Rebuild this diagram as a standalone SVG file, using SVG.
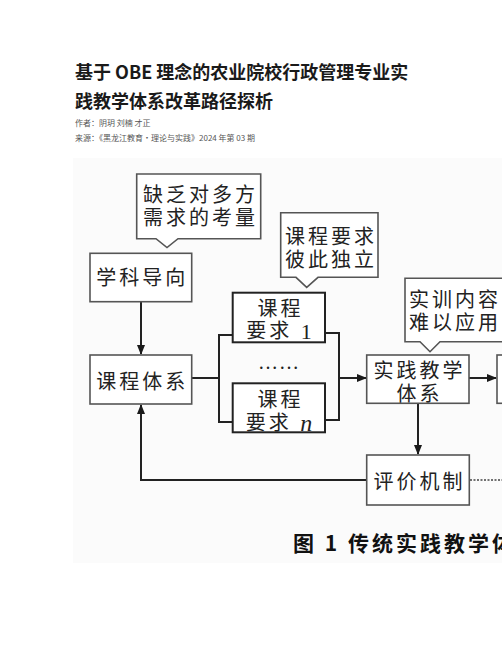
<svg xmlns="http://www.w3.org/2000/svg" width="502" height="649" viewBox="0 0 502 649">
<defs>
<marker id="ah" markerWidth="10" markerHeight="10" refX="9" refY="5" orient="auto" markerUnits="userSpaceOnUse">
<path d="M0,1 L10,5 L0,9 Z" fill="#1a1a1a"/>
</marker>
<style>
.title{font-family:"Noto Sans CJK SC","Liberation Serif",serif;font-weight:bold;font-size:18px;fill:#1a1a1a}
.meta{font-family:"Noto Sans CJK SC",sans-serif;font-size:8px;fill:#555}
.box{fill:#ffffff;stroke:#555;stroke-width:1.6}
.box2{fill:#ffffff;stroke:#222;stroke-width:2}
.lbl{font-family:"Liberation Sans","Noto Sans CJK SC",sans-serif;font-size:20px;fill:#222;text-anchor:middle;dominant-baseline:central;letter-spacing:3px}
.ln{fill:none;stroke:#222;stroke-width:2}
.cap{font-family:"Noto Sans CJK SC",sans-serif;font-weight:bold;font-size:21px;fill:#111;dominant-baseline:central;letter-spacing:3px}
</style>
</defs>
<rect width="502" height="649" fill="#ffffff"/>
<g id="header">
<text class="title" x="75" y="79">基于 OBE 理念的农业院校行政管理专业实</text>
<text class="title" x="75" y="108">践教学体系改革路径探析</text>
<text class="meta" x="75" y="125.5">作者：阴玥 刘楠 才正</text>
<text class="meta" x="75" y="141">来源：《黑龙江教育·理论与实践》2024 年第 03 期</text>
</g>
<rect x="73" y="158" width="429" height="405" fill="#fbfbfb"/>
<g id="connectors">
<line class="ln" x1="141" y1="302" x2="141" y2="354" marker-end="url(#ah)"/>
<polyline class="ln" points="367,480 141,480 141,405" marker-end="url(#ah)"/>
<line class="ln" x1="192" y1="378" x2="219" y2="378"/>
<polyline class="ln" points="233,335 219,335 219,422 233,422"/>
<polyline class="ln" points="325,333 339,333 339,420 325,420"/>
<line class="ln" x1="339" y1="378" x2="366" y2="378" marker-end="url(#ah)"/>
<line class="ln" x1="469" y1="378" x2="496" y2="378" marker-end="url(#ah)"/>
<line class="ln" x1="418" y1="404" x2="418" y2="454" marker-end="url(#ah)"/>
<line x1="470" y1="480" x2="502" y2="480" stroke="#444" stroke-width="1.6" stroke-dasharray="2,1.5"/>
</g>
<g id="callout1">
<path class="box" d="M136.7,174 H260.7 V238.7 H178 L167,247.5 L156,238.7 H136.7 Z"/>
<text class="lbl"><tspan x="200.5" y="195">缺乏对多方</tspan><tspan x="200.5" y="218">需求的考量</tspan></text>
</g>
<g id="callout2">
<path class="box" d="M280.7,212.7 H378 V277.3 H318 L306.7,287.3 L296,277.3 H280.7 Z"/>
<text class="lbl"><tspan x="331" y="237">课程要求</tspan><tspan x="331" y="260">彼此独立</tspan></text>
</g>
<g id="callout3">
<path class="box" d="M405,278.3 H515 V341.7 H440 L430,351.7 L420,341.7 H405 Z"/>
<text class="lbl" style="text-anchor:start"><tspan x="409" y="300">实训内容</tspan><tspan x="409" y="323">难以应用</tspan></text>
</g>
<g id="xueke">
<rect class="box" x="90" y="253.3" width="101.7" height="48.4"/>
<text class="lbl" x="142.3" y="278">学科导向</text>
</g>
<g id="kechengtixi">
<rect class="box" x="90" y="355" width="101.7" height="49"/>
<text class="lbl" x="142.3" y="382">课程体系</text>
</g>
<g id="req1">
<rect class="box2" x="232.7" y="292.7" width="92.3" height="49.6"/>
<text class="lbl"><tspan x="280.5" y="309">课程</tspan><tspan x="280.5" y="331">要求 <tspan font-family="Liberation Serif" font-size="22">1</tspan></tspan></text>
</g>
<g id="dots">
<text x="279" y="362" font-family="Liberation Serif" font-size="20" fill="#222" text-anchor="middle" dominant-baseline="central" letter-spacing="1">……</text>
</g>
<g id="reqn">
<rect class="box2" x="232.7" y="383.3" width="92.3" height="49"/>
<text class="lbl"><tspan x="280.5" y="400">课程</tspan><tspan x="280.5" y="423">要求 <tspan font-family="Liberation Serif" font-style="italic" font-size="24">n</tspan></tspan></text>
</g>
<g id="shijian">
<rect class="box" x="366.7" y="355" width="102.3" height="48.3"/>
<text class="lbl"><tspan x="419.5" y="371">实践教学</tspan><tspan x="419.5" y="394">体系</tspan></text>
</g>
<g id="next">
<rect class="box" x="497" y="355" width="20" height="48.3"/>
</g>
<g id="pingjia">
<rect class="box" x="366.7" y="455" width="102.6" height="50"/>
<text class="lbl" x="419.5" y="482">评价机制</text>
</g>
<g id="caption">
<text class="cap" x="293" y="542">图 1  传统实践教学体</text>
</g>
</svg>
